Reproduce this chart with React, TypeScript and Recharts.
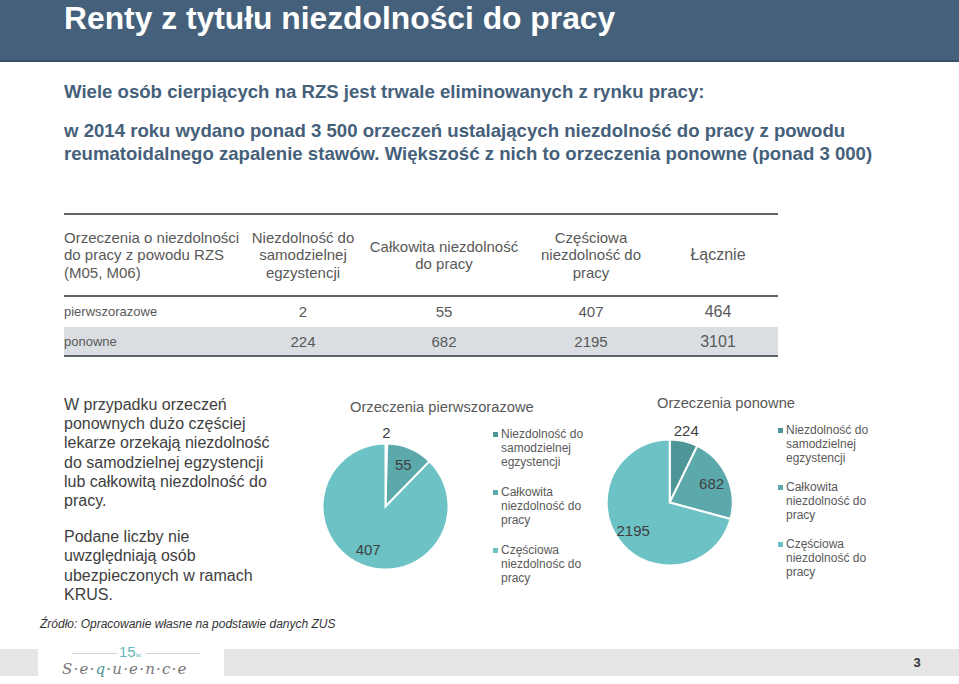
import React from 'react';
import { PieChart, Pie, Cell, Legend } from 'recharts';

// ---------- data ----------
const categories = [
  'Niezdolność do samodzielnej egzystencji',
  'Całkowita niezdolność do pracy',
  'Częściowa niezdolność do pracy',
];
const firstTimeValues = [2, 55, 407];
const repeatValues = [224, 682, 2195];
const rowTotals = [464, 3101];
const rowLabels = ['pierwszorazowe', 'ponowne'];
const tableHeaders = [
  'Orzeczenia o niezdolności\ndo pracy z powodu RZS\n(M05, M06)',
  'Niezdolność do\nsamodzielnej\negzystencji',
  'Całkowita niezdolność\ndo pracy',
  'Częściowa\nniezdolność do\npracy',
  'Łącznie',
];
const legendFirst = [
  ['Niezdolność do', 'samodzielnej', 'egzystencji'],
  ['Całkowita', 'niezdolność do', 'pracy'],
  ['Częściowa', 'niezdolnośc do', 'pracy'],
];
const legendRepeat = [
  ['Niezdolność do', 'samodzielnej', 'egzystencji'],
  ['Całkowita', 'niezdolność do', 'pracy'],
  ['Częściowa', 'niezdolność do', 'pracy'],
];
const pieTitles = ['Orzeczenia pierwszorazowe', 'Orzeczenia ponowne'];
const slideTitle = 'Renty z tytułu niezdolności do pracy';
const lead = 'Wiele osób cierpiących na RZS jest trwale eliminowanych z rynku pracy:';
const leadLines = [
  'w 2014 roku wydano ponad 3 500 orzeczeń ustalających niezdolność do pracy z powodu',
  'reumatoidalnego zapalenie stawów. Większość z nich to orzeczenia ponowne (ponad 3 000)',
];
const noteParagraphs = [
  'W przypadku orzeczeń\nponownych dużo częściej\nlekarze orzekają niezdolność\ndo samodzielnej egzystencji\nlub całkowitą niezdolność do\npracy.',
  'Podane liczby nie\nuwzględniają osób\nubezpieczonych w ramach\nKRUS.',
];
const sourceText = 'Źródło: Opracowanie własne na podstawie danych ZUS';
const pageNumber = '3';

const sliceColors = ['#4E9597', '#5BA9AB', '#6CC2C5'];

const FONT = '"Liberation Sans", Arial, sans-serif';
const RAD = Math.PI / 180;

const renderLabel = (props: any) => {
  const { cx, cy, midAngle, outerRadius, index, value } = props;
  const r = index === 0 ? outerRadius * 1.17 : outerRadius * 0.73;
  const x = cx + r * Math.cos(-midAngle * RAD);
  const y = cy + r * Math.sin(-midAngle * RAD);
  return (
    <text x={x} y={y} textAnchor="middle" dominantBaseline="central" fill="#404040" fontSize={15} fontFamily={FONT}>
      {value}
    </text>
  );
};

const makeLegend = (lines: string[][], gap: number) => (props: any) => {
  const payload = props.payload || [];
  return (
    <div style={{ fontFamily: FONT, fontSize: 12, lineHeight: '14px', color: '#595959' }}>
      {payload.map((entry: any, i: number) => (
        <div key={i} style={{ position: 'relative', paddingLeft: 8, marginBottom: gap }}>
          <span
            style={{
              position: 'absolute',
              left: 0,
              top: 5,
              width: 5,
              height: 5,
              background: sliceColors[i],
            }}
          />
          {(lines[i] || [String(entry.value)]).map((l, j) => (
            <div key={j}>{l}</div>
          ))}
        </div>
      ))}
    </div>
  );
};

type PieBlockProps = {
  values: number[];
  title: string;
  legendLines: string[][];
  left: number;
  top: number;
  cx: number;
  cy: number;
  titleLeft: number;
  titleTop: number;
  legendLeft: number;
  legendTop: number;
  legendGap: number;
};

const PieBlock = (p: PieBlockProps) => {
  const data = p.values.map((v, i) => ({ name: categories[i], value: v, fill: sliceColors[i] }));
  return (
    <div style={{ position: 'absolute', left: p.left, top: p.top, width: 300, height: 220 }}>
      <div
        style={{
          position: 'absolute',
          left: p.titleLeft,
          top: p.titleTop,
          fontFamily: FONT,
          fontSize: 14.7,
          lineHeight: '18px',
          color: '#595959',
          whiteSpace: 'nowrap',
        }}
      >
        {p.title}
      </div>
      <PieChart width={300} height={220} margin={{ top: 0, right: 0, bottom: 0, left: 0 }}>
        <Pie
          data={data}
          dataKey="value"
          nameKey="name"
          cx={p.cx}
          cy={p.cy}
          outerRadius={63}
          startAngle={90}
          endAngle={-270}
          stroke="#ffffff"
          strokeWidth={2}
          label={renderLabel}
          labelLine={false}
          isAnimationActive={false}
        >
          {data.map((d, i) => (
            <Cell key={i} fill={d.fill} />
          ))}
        </Pie>
        <Legend
          layout="vertical"
          align="center"
          verticalAlign="middle"
          content={makeLegend(p.legendLines, p.legendGap)}
          wrapperStyle={{ left: p.legendLeft, top: p.legendTop, width: 120, height: 'auto' }}
        />
      </PieChart>
    </div>
  );
};

const colCenters = [303, 444, 591, 718];
const colWidths = [120, 170, 120, 100];

export default function App() {
  return (
    <div
      style={{
        position: 'absolute',
        left: 0,
        top: 0,
        width: 959,
        height: 684,
        background: '#ffffff',
        overflow: 'hidden',
        fontFamily: FONT,
      }}
    >
      {/* header bar */}
      <div style={{ position: 'absolute', left: 0, top: 0, width: 959, height: 60, background: '#45607A' }} />
      <div style={{ position: 'absolute', left: 0, top: 60, width: 959, height: 2, background: '#3A4F63' }} />
      <div
        style={{
          position: 'absolute',
          left: 64,
          top: 1,
          fontSize: 31.8,
          fontWeight: 'bold',
          color: '#ffffff',
          lineHeight: '34px',
          whiteSpace: 'nowrap',
        }}
      >
        {slideTitle}
      </div>

      {/* lead text */}
      <div
        style={{
          position: 'absolute',
          left: 64,
          top: 81,
          fontSize: 18.6,
          fontWeight: 'bold',
          color: '#45607A',
          lineHeight: '22px',
          whiteSpace: 'nowrap',
        }}
      >
        {lead}
      </div>
      <div
        style={{
          position: 'absolute',
          left: 64,
          top: 119,
          fontSize: 18.6,
          fontWeight: 'bold',
          color: '#45607A',
          lineHeight: '23px',
          whiteSpace: 'nowrap',
        }}
      >
        {leadLines.map((l, i) => (
          <div key={i}>{l}</div>
        ))}
      </div>

      {/* table */}
      <div style={{ position: 'absolute', left: 64, top: 213, width: 714, height: 2, background: '#5F6469' }} />
      <div style={{ position: 'absolute', left: 64, top: 295, width: 714, height: 2, background: '#5F6469' }} />
      <div style={{ position: 'absolute', left: 64, top: 327, width: 714, height: 28, background: '#DADEE2' }} />
      <div style={{ position: 'absolute', left: 64, top: 355, width: 714, height: 2, background: '#5F6469' }} />
      <div
        style={{
          position: 'absolute',
          left: 64,
          top: 215,
          height: 80,
          width: 200,
          display: 'flex',
          alignItems: 'center',
          fontSize: 15,
          lineHeight: '17.5px',
          color: '#595959',
          whiteSpace: 'pre-line',
        }}
      >
        {tableHeaders[0]}
      </div>
      {colCenters.map((c, i) => (
        <div
          key={i}
          style={{
            position: 'absolute',
            left: c - colWidths[i] / 2,
            top: 215,
            height: 80,
            width: colWidths[i],
            display: 'flex',
            alignItems: 'center',
            justifyContent: 'center',
            textAlign: 'center',
            fontSize: i === 3 ? 16 : 15,
            lineHeight: '17.5px',
            color: '#595959',
            whiteSpace: 'pre-line',
          }}
        >
          {tableHeaders[i + 1]}
        </div>
      ))}
      {[firstTimeValues, repeatValues].map((vals, r) => {
        const y = r === 0 ? 312 : 342;
        const cells = [...vals, rowTotals[r]];
        return (
          <React.Fragment key={r}>
            <div
              style={{
                position: 'absolute',
                left: 64,
                top: y - 9,
                fontSize: 13,
                lineHeight: '18px',
                color: '#595959',
              }}
            >
              {rowLabels[r]}
            </div>
            {cells.map((v, i) => (
              <div
                key={i}
                style={{
                  position: 'absolute',
                  left: colCenters[i] - 50,
                  width: 100,
                  top: y - 9,
                  textAlign: 'center',
                  fontSize: i === 3 ? 16 : 15,
                  lineHeight: '18px',
                  color: '#595959',
                }}
              >
                {v}
              </div>
            ))}
          </React.Fragment>
        );
      })}

      {/* note text */}
      <div
        style={{
          position: 'absolute',
          left: 64,
          top: 395,
          width: 250,
          fontSize: 16,
          lineHeight: '19.2px',
          color: '#404040',
          whiteSpace: 'pre-line',
        }}
      >
        {noteParagraphs.map((p, i) => (
          <div key={i} style={{ marginBottom: 17 }}>
            {p}
          </div>
        ))}
      </div>

      {/* pies */}
      <PieBlock
        values={firstTimeValues}
        title={pieTitles[0]}
        legendLines={legendFirst}
        left={320}
        top={385}
        cx={65.5}
        cy={121.5}
        titleLeft={30}
        titleTop={13}
        legendLeft={173}
        legendTop={42}
        legendGap={16}
      />
      <PieBlock
        values={repeatValues}
        title={pieTitles[1]}
        legendLines={legendRepeat}
        left={600}
        top={385}
        cx={69.7}
        cy={117.5}
        titleLeft={57}
        titleTop={9}
        legendLeft={178}
        legendTop={38}
        legendGap={15}
      />

      {/* source */}
      <div
        style={{
          position: 'absolute',
          left: 40,
          top: 616,
          fontSize: 12,
          fontStyle: 'italic',
          color: '#333333',
          lineHeight: '16px',
          whiteSpace: 'nowrap',
        }}
      >
        {sourceText}
      </div>

      {/* footer */}
      <div style={{ position: 'absolute', left: 0, top: 649, width: 38, height: 27, background: '#E6E6E6' }} />
      <div style={{ position: 'absolute', left: 224, top: 649, width: 735, height: 27, background: '#E6E6E6' }} />
      <div style={{ position: 'absolute', left: 72, top: 653, width: 45, height: 1, background: '#C8D8D8' }} />
      <div style={{ position: 'absolute', left: 146, top: 653, width: 54, height: 1, background: '#C8D8D8' }} />
      <div
        style={{
          position: 'absolute',
          left: 119,
          top: 644,
          fontSize: 15,
          lineHeight: '16px',
          color: '#6AB5B8',
        }}
      >
        15<span style={{ fontSize: 5 }}>lat</span>
      </div>
      <div
        style={{
          position: 'absolute',
          left: 62,
          top: 660,
          fontSize: 15,
          lineHeight: '18px',
          fontStyle: 'italic',
          fontFamily: '"DejaVu Serif", serif',
          color: '#777777',
          letterSpacing: 1.2,
          whiteSpace: 'nowrap',
        }}
      >
        S·e·<span style={{ color: '#4E9597' }}>q</span>·u·e·n·c·e
      </div>
      <div
        style={{
          position: 'absolute',
          left: 905,
          top: 654,
          width: 24,
          textAlign: 'center',
          fontSize: 13,
          fontWeight: 'bold',
          lineHeight: '18px',
          color: '#333333',
        }}
      >
        {pageNumber}
      </div>
    </div>
  );
}
